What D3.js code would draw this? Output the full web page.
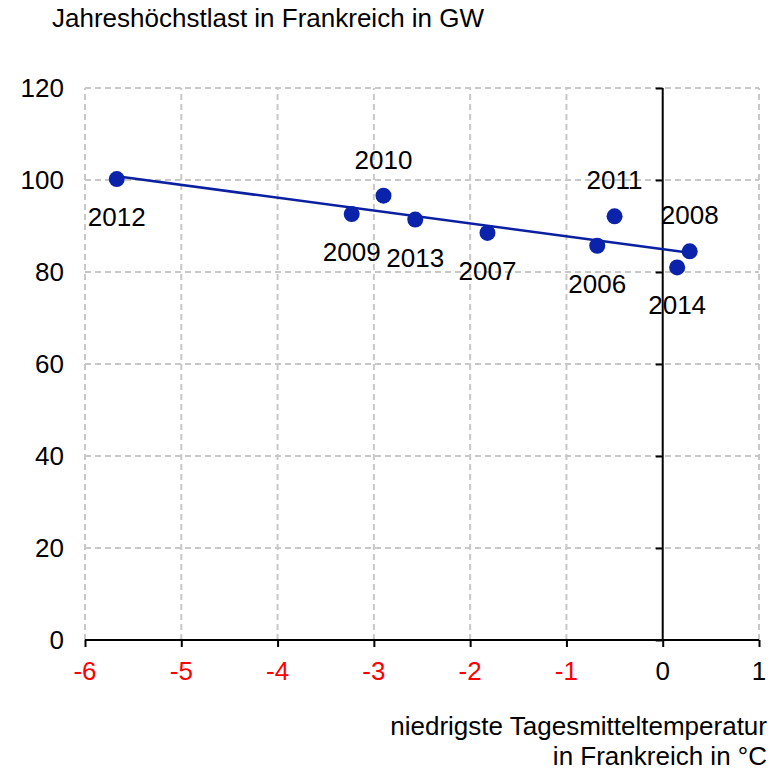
<!DOCTYPE html>
<html>
<head>
<meta charset="utf-8">
<script src="https://cdn.jsdelivr.net/npm/d3@7"></script>
<style>
  body { margin: 0; background: #fff; }
  text { font-family: "Liberation Sans", Arial, sans-serif; }
</style>
</head>
<body>
<div id="chart"></div>
<script>
// data
const years = ["2012", "2010", "2009", "2013", "2007", "2011", "2006", "2008", "2014"];
const temps = [-5.67, -2.90, -3.23, -2.57, -1.82, -0.50, -0.68, 0.28, 0.15];
const loads = [100.2, 96.6, 92.6, 91.4, 88.5, 92.1, 85.7, 84.5, 81.0];
const labelSide = ["below", "above", "below", "below", "below", "above", "below", "above", "below"];
const trendX = [-5.67, 0.28];
const trendY = [100.8, 84.2];
const xTicks = [-6, -5, -4, -3, -2, -1, 0, 1];
const yTicks = [0, 20, 40, 60, 80, 100, 120];

const W = 773, H = 772;
const fs = 26;
const svg = d3.select("#chart").append("svg")
    .attr("width", W)
    .attr("height", H);

const x = d3.scaleLinear().domain([-6, 1]).range([85, 759]);
const y = d3.scaleLinear().domain([0, 120]).range([640, 88]);

const grid = svg.append("g")
    .attr("stroke", "#c8c8c8")
    .attr("stroke-width", 2)
    .attr("stroke-dasharray", "6,4");

// horizontal grid
grid.selectAll(".hg")
    .data(yTicks.filter(d => d > 0))
    .enter().append("line")
    .attr("x1", x(-6)).attr("x2", x(1))
    .attr("y1", d => y(d)).attr("y2", d => y(d));

// vertical grid
grid.selectAll(".vg")
    .data(xTicks.filter(d => d !== 0))
    .enter().append("line")
    .attr("x1", d => x(d)).attr("x2", d => x(d))
    .attr("y1", y(0)).attr("y2", y(120));

// x axis along y=0
svg.append("g")
    .attr("transform", "translate(0," + y(0) + ")")
    .call(d3.axisBottom(x).tickValues(xTicks).tickSize(7).tickFormat(""))
    .call(g => g.selectAll("path, line").attr("stroke", "#000").attr("stroke-width", 2))
    .call(g => g.select(".domain").attr("d", "M" + x(-6) + ",0H" + x(1)));

// y axis along x=0
svg.append("g")
    .attr("transform", "translate(" + x(0) + ",0)")
    .call(d3.axisLeft(y).tickValues(yTicks).tickSize(7).tickFormat(""))
    .call(g => g.selectAll("path, line").attr("stroke", "#000").attr("stroke-width", 2))
    .call(g => g.select(".domain").attr("d", "M0," + y(0) + "V" + y(120)));

// y tick labels on the left
svg.selectAll(".ylab")
    .data(yTicks)
    .enter().append("text")
    .attr("x", 64)
    .attr("y", d => y(d))
    .attr("dy", "0.35em")
    .attr("text-anchor", "end")
    .attr("font-size", fs)
    .text(d => d);

// x tick labels
svg.selectAll(".xlab")
    .data(xTicks)
    .enter().append("text")
    .attr("x", d => x(d))
    .attr("y", 680)
    .attr("text-anchor", "middle")
    .attr("font-size", fs)
    .attr("fill", d => d < 0 ? "#ff0000" : "#000")
    .text(d => d);

// trend line
svg.append("line")
    .attr("x1", x(trendX[0])).attr("y1", y(trendY[0]))
    .attr("x2", x(trendX[1])).attr("y2", y(trendY[1]))
    .attr("stroke", "#0a20a0")
    .attr("stroke-width", 2.5);

// points
svg.selectAll(".dot")
    .data(years)
    .enter().append("circle")
    .attr("cx", (d, i) => x(temps[i]))
    .attr("cy", (d, i) => y(loads[i]))
    .attr("r", 8)
    .attr("fill", "#0b22aa");

// year labels
svg.selectAll(".yr")
    .data(years)
    .enter().append("text")
    .attr("x", (d, i) => x(temps[i]))
    .attr("y", (d, i) => y(loads[i]) + (labelSide[i] === "above" ? -27 : 47))
    .attr("text-anchor", "middle")
    .attr("font-size", fs)
    .text(d => d);

// titles
svg.append("text")
    .attr("x", 52).attr("y", 27)
    .attr("font-size", fs)
    .text("Jahreshöchstlast in Frankreich in GW");

svg.append("text")
    .attr("x", 767).attr("y", 735)
    .attr("text-anchor", "end")
    .attr("font-size", fs)
    .text("niedrigste Tagesmitteltemperatur");

svg.append("text")
    .attr("x", 767).attr("y", 765)
    .attr("text-anchor", "end")
    .attr("font-size", fs)
    .text("in Frankreich in °C");
</script>
</body>
</html>
